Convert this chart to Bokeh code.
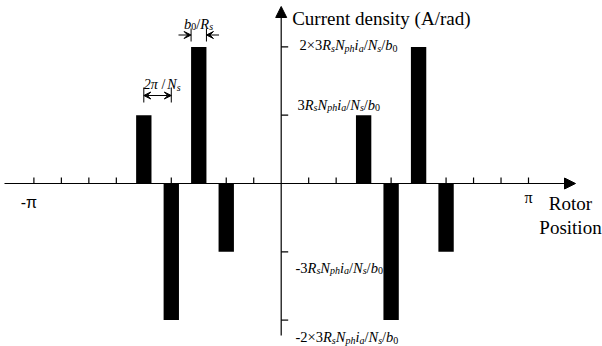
import numpy as np
from bokeh.plotting import figure
from bokeh.models import Range1d, Arrow, NormalHead, VeeHead
from bokeh.core.properties import value
from bokeh.embed import file_html
from bokeh.resources import INLINE

# ---------------- data ----------------
NS = 18                                   # number of slots -> tick pitch 2*pi/Ns
SLOT_INDEX = [-5, -4, -3, -2, 3, 4, 5, 6]  # slot positions of the conductors
DENSITY = [1, -2, 2, -1, 1, -2, 2, -1]     # in units of 3RsNph ia/Ns/b0
BAR_WIDTH = 0.195                          # b0/Rs (rad)
Y_TICKS = [2, 1, -1, -2]
X_TICK_LABELS = ["-π", "π"]

# y tick label pieces: (text, kind) kind: n normal, i italic, sn/si subscript
UNIT = [("3", "n"), ("R", "i"), ("s", "si"), ("N", "i"), ("ph", "si"), ("i", "i"),
        ("a", "si"), ("/", "n"), ("N", "i"), ("s", "si"), ("/", "n"), ("b", "i"), ("0", "sn")]
Y_LABELS = {
    2: [("2×", "n")] + UNIT,
    1: UNIT,
    -1: [("-", "n")] + UNIT,
    -2: [("-2×", "n")] + UNIT,
}

# ---------------- geometry ----------------
W, H = 602, 346
X0, XK = 280.7, 78.72     # px of x=0, px per rad
Y0, YK = 183.0, 68.3      # px of y=0, px per unit


def dx(px):
    return (px - X0) / XK


def dy(py):
    return (Y0 - py) / YK


p = figure(width=W, height=H, x_range=Range1d(dx(0), dx(W)),
           y_range=Range1d(dy(H), dy(0)), output_backend="svg",
           toolbar_location=None, x_axis_type=None, y_axis_type=None,
           min_border=0)
p.grid.visible = False
p.outline_line_color = None
p.background_fill_color = "white"
p.border_fill_color = "white"

SERIF = "Liberation Serif"
W_REG = {"0": 500, "1": 500, "2": 500, "3": 500, "×": 564, "/": 278, "-": 333, " ": 250}
W_IT = {"R": 611, "N": 667, "i": 278, "b": 500, "s": 389, "p": 500, "h": 500,
        "a": 500, "2": 500, "π": 760}


def rich(x, y, segs, x_off=0.0, y_off=0.0, size=14.5, sub=10.0):
    texts, xo, yo, sizes, styles = [], [], [], [], []
    cur = x_off
    for s, kind in segs:
        if kind == "k":          # manual kerning (px)
            cur += float(s)
            continue
        is_sub = kind.startswith("s")
        it = kind.endswith("i")
        fs = sub if is_sub else size
        texts.append(s)
        xo.append(cur)
        yo.append(y_off + (3.0 if is_sub else 0.0))
        sizes.append(f"{fs}px")
        styles.append("italic" if it else "normal")
        tab = W_IT if it else W_REG
        cur += sum(tab.get(c, 500) for c in s) * fs / 1000.0
    n = len(texts)
    p.text(x=[x] * n, y=[y] * n, text=texts, x_offset=xo, y_offset=yo,
           text_font_size=sizes, text_font_style=styles, text_font=value(SERIF),
           text_baseline="alphabetic", text_align="left", text_color="black")


pitch = 2 * np.pi / NS
bar_x = [k * pitch for k in SLOT_INDEX]

# bars
p.vbar(x=bar_x, width=BAR_WIDTH, top=DENSITY, bottom=0,
       fill_color="black", line_color=None)

# x axis with arrow
p.add_layout(Arrow(end=NormalHead(size=11, fill_color="black", line_color="black", line_width=1),
                   x_start=dx(4), y_start=0, x_end=dx(575), y_end=0,
                   line_color="black", line_width=1.2))
# y axis with arrow
p.add_layout(Arrow(end=NormalHead(size=11, fill_color="black", line_color="black", line_width=1),
                   x_start=0, y_start=dy(335), x_end=0, y_end=dy(6),
                   line_color="black", line_width=1.2))

# x ticks (every 2*pi/Ns)
tick_x = [k * pitch for k in range(-NS // 2, NS // 2 + 1) if k != 0]
p.segment(x0=tick_x, y0=[0] * len(tick_x), x1=tick_x, y1=[6 / YK] * len(tick_x),
          line_color="black", line_width=1.2)
# y ticks
p.segment(x0=[0] * len(Y_TICKS), y0=Y_TICKS, x1=[7 / XK] * len(Y_TICKS), y1=Y_TICKS,
          line_color="black", line_width=1.2)

# x tick labels
p.text(x=[-np.pi], y=[0], text=[X_TICK_LABELS[0]], x_offset=[-5], y_offset=[19],
       text_font=value("Liberation Sans"), text_font_size="16px",
       text_align="center", text_baseline="alphabetic", text_color="black")
p.text(x=[np.pi], y=[0], text=[X_TICK_LABELS[1]], x_offset=[0], y_offset=[14],
       text_font=value(SERIF), text_font_size="16px",
       text_align="center", text_baseline="alphabetic", text_color="black")

# y tick labels
offs = {2: (18.3, -1.7), 1: (16.3, -10.5), -1: (14.3, 15.7), -2: (14.3, 17.3)}
for lv in Y_TICKS:
    xo, yo = offs[lv]
    rich(0, lv, Y_LABELS[lv], x_off=xo, y_off=yo)

# axis titles
p.text(x=[0], y=[dy(17.5)], text=["Current density (A/rad)"], x_offset=[11],
       text_font=value(SERIF), text_font_size="19px", text_align="left",
       text_baseline="alphabetic", text_color="black")
p.text(x=[dx(570), dx(570)], y=[dy(203), dy(227)], text=["Rotor", "Position"],
       text_font=value(SERIF), text_font_size="19px", text_align="center",
       text_baseline="alphabetic", text_color="black")

# 2pi/Ns dimension
xa, xb = bar_x[0], bar_x[1]
ya = dy(95)
p.add_layout(Arrow(start=VeeHead(size=7, line_width=1), end=VeeHead(size=7, line_width=1),
                   x_start=xa, y_start=ya, x_end=xb, y_end=ya,
                   line_color="black", line_width=1))
p.segment(x0=[xa, xb], y0=[dy(87)] * 2, x1=[xa, xb], y1=[dy(102)] * 2,
          line_color="black", line_width=1)
rich(xa, ya, [("2π", "i"), (" /", "n"), ("-1.5", "k"), ("N", "i"), ("s", "si")],
     x_off=0, y_off=-11, size=14, sub=10)

# b0/Rs dimension
xc = bar_x[2]
le, re = xc - BAR_WIDTH / 2, xc + BAR_WIDTH / 2
yb = dy(34.5)
p.add_layout(Arrow(end=VeeHead(size=7, line_width=1), x_start=le - 0.16, y_start=yb,
                   x_end=le, y_end=yb, line_color="black", line_width=1))
p.add_layout(Arrow(end=VeeHead(size=7, line_width=1), x_start=re + 0.16, y_start=yb,
                   x_end=re, y_end=yb, line_color="black", line_width=1))
p.segment(x0=[le, re], y0=[dy(28)] * 2, x1=[le, re], y1=[dy(41)] * 2,
          line_color="black", line_width=1)
rich(le, yb, [("b", "i"), ("0", "sn"), ("/", "n"), ("R", "i"), ("s", "si")],
     x_off=-7, y_off=-11.5, size=14.5, sub=10)

open("out.html", "w").write(file_html(p, INLINE))
